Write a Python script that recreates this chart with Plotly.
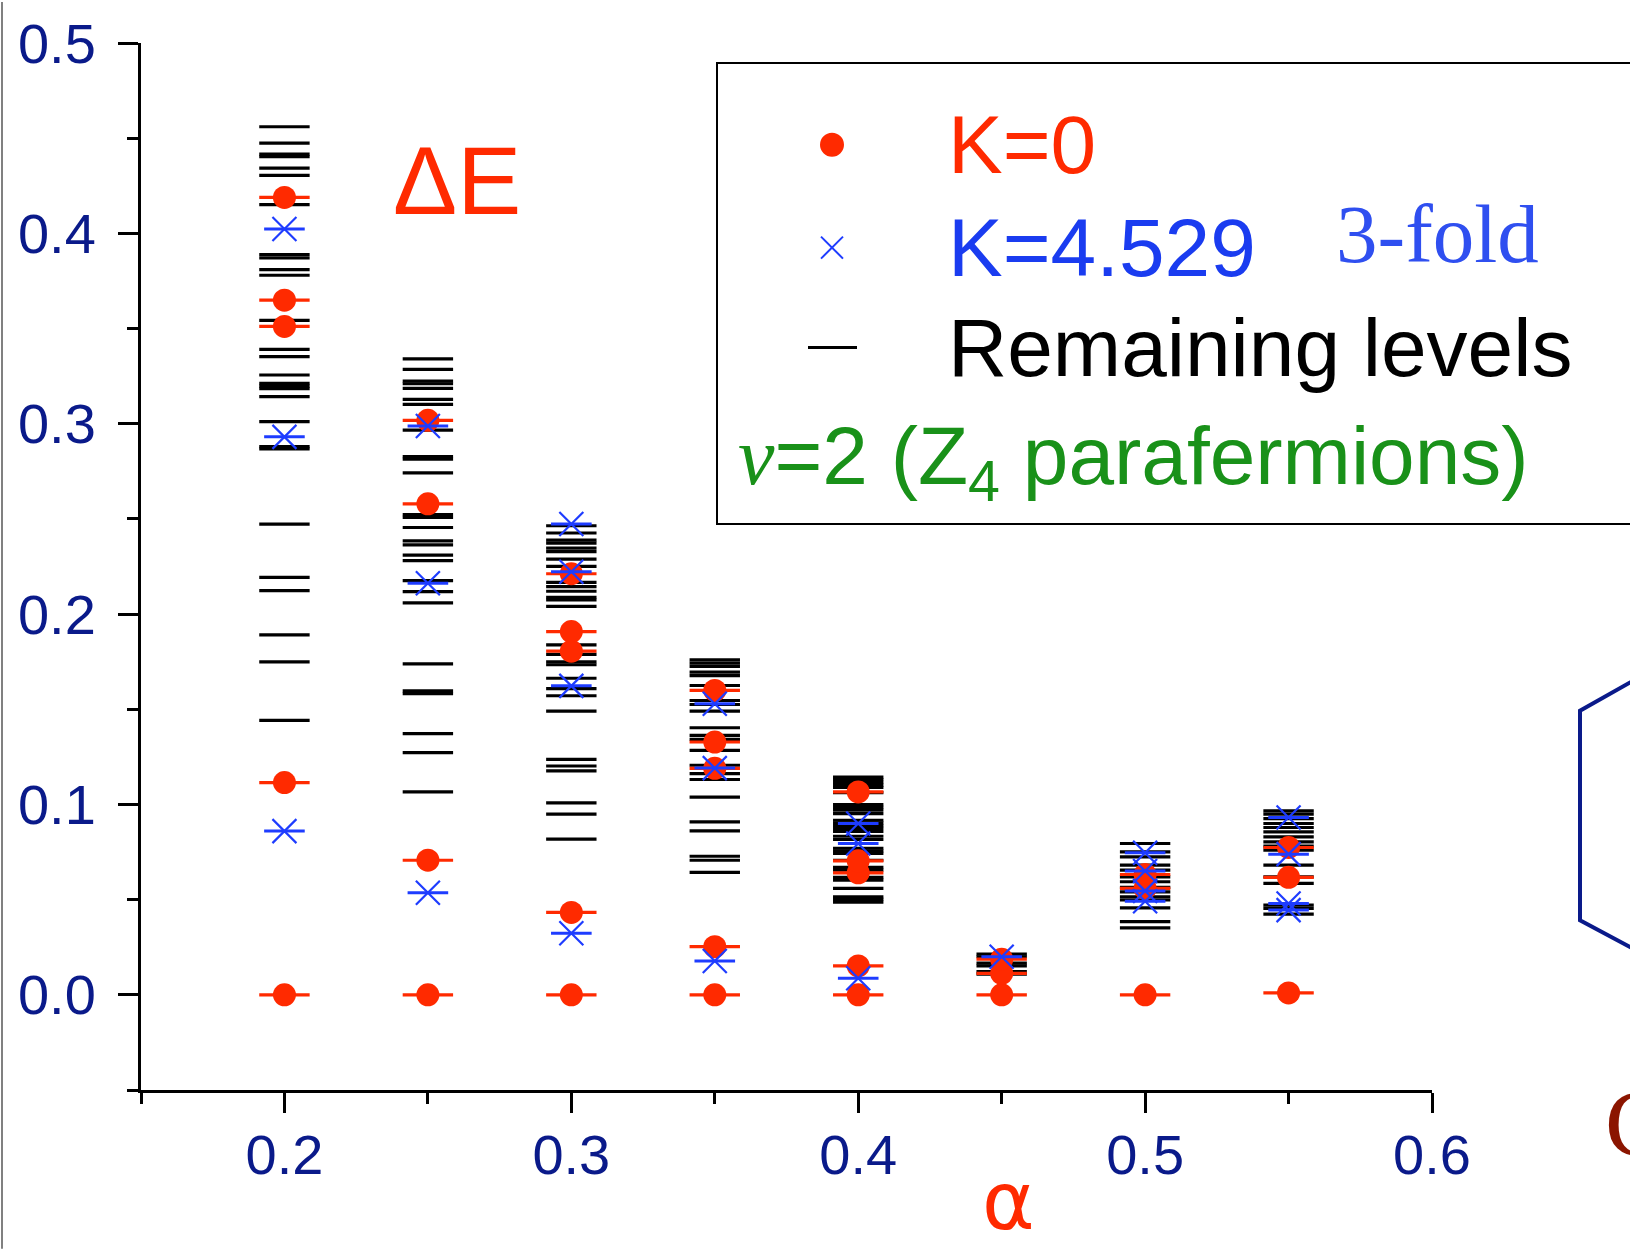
import plotly.graph_objects as go

# Level spectra versus alpha, one column of levels per alpha value
alpha = [0.20, 0.25, 0.30, 0.35, 0.40, 0.45, 0.50, 0.55]

k0_levels = [
    [0.0, 0.1115, 0.3511, 0.3649, 0.4189],
    [0.0, 0.0707, 0.2579, 0.3018],
    [0.0, 0.0433, 0.1805, 0.1908, 0.2212],
    [0.0, 0.0253, 0.1190, 0.1328, 0.1599],
    [0.0, 0.0152, 0.0641, 0.0704, 0.1066],
    [0.0, 0.0113, 0.0187],
    [0.0, 0.0559, 0.0632],
    [0.001, 0.0617, 0.0774],
]

k4529_levels = [
    [0.0860, 0.2931, 0.4023],
    [0.0536, 0.2162, 0.2988],
    [0.0323, 0.1623, 0.2222, 0.2473],
    [0.0178, 0.1191, 0.1529],
    [0.0087, 0.0795, 0.0900],
    [0.0200],
    [0.0492, 0.0546, 0.0650, 0.0746],
    [0.0445, 0.0480, 0.0739, 0.0931],
]

remaining_levels = [
    [0.456, 0.4474, 0.4416, 0.4403, 0.4343, 0.4305, 0.4151, 0.3889, 0.3871, 0.3810,
     0.3780, 0.3543, 0.3391, 0.3352, 0.3256, 0.3212, 0.3198, 0.3184, 0.3142, 0.3011,
     0.2880, 0.2868, 0.2473, 0.2193, 0.2123, 0.1891, 0.1749, 0.1442],
    [0.3341, 0.3286, 0.3224, 0.3210, 0.3186, 0.3128, 0.3102, 0.2966, 0.2827, 0.2814,
     0.2742, 0.2522, 0.2508, 0.2455, 0.2385, 0.2364, 0.2310, 0.2281, 0.2176, 0.2118,
     0.2059, 0.1739, 0.1597, 0.1582, 0.1372, 0.1272, 0.1066],
    [0.2464, 0.2426, 0.2389, 0.2373, 0.2347, 0.2328, 0.2289, 0.2251, 0.2167, 0.2144,
     0.2120, 0.2088, 0.2074, 0.2041, 0.1838, 0.1788, 0.1749, 0.1734, 0.1663, 0.1608,
     0.1571, 0.1490, 0.1237, 0.1202, 0.1176, 0.1008, 0.0949, 0.0818],
    [0.1760, 0.1742, 0.1725, 0.1695, 0.1677, 0.1625, 0.1546, 0.1525, 0.1490, 0.1403,
     0.1363, 0.1342, 0.1284, 0.1206, 0.1162, 0.1131, 0.1039, 0.0908, 0.0861, 0.0728,
     0.0707, 0.0643],
    [0.1144, 0.1131, 0.1116, 0.1102, 0.1089, 0.1062, 0.0999, 0.0985, 0.0970, 0.0952,
     0.0917, 0.0903, 0.0889, 0.0874, 0.0858, 0.0833, 0.0816, 0.0770, 0.0756, 0.0743,
     0.0707, 0.0669, 0.0655, 0.0617, 0.0603, 0.0559, 0.0515, 0.0501, 0.0487],
    [0.0214, 0.0200, 0.0166, 0.0152, 0.0122, 0.0108],
    [0.0795, 0.0751, 0.0725, 0.0681, 0.0655, 0.0620, 0.0594, 0.0564, 0.0541, 0.0515,
     0.0498, 0.0457, 0.0384, 0.0352],
    [0.0966, 0.0949, 0.0926, 0.0900, 0.0879, 0.0856, 0.0830, 0.0803, 0.0781, 0.0760,
     0.0681, 0.0620, 0.0585, 0.0471, 0.0454, 0.0424],
]

x_tick_vals = [0.2, 0.3, 0.4, 0.5, 0.6]
y_tick_vals = [0.0, 0.1, 0.2, 0.3, 0.4, 0.5]

RED = "#ff2a00"
BLUE = "#1e3cff"
NAVY = "#0a1a8a"
GREEN = "#199119"
SANS = "Liberation Sans, Arial, sans-serif"
SERIF = "Liberation Serif, Times New Roman, serif"

W, H = 1630, 1249
M_L, M_R, M_T, M_B = 141, 198, 41, 159


def flatten(levels):
    xs, ys = [], []
    for a, col in zip(alpha, levels):
        for v in col:
            xs.append(a)
            ys.append(v)
    return xs, ys


def px(xp):
    return (xp - M_L) / (W - M_L - M_R)


def py(yp):
    return (H - M_B - yp) / (H - M_T - M_B)


fig = go.Figure()

rx, ry = flatten(remaining_levels)
fig.add_trace(go.Scatter(
    x=rx, y=ry, mode="markers", name="Remaining levels", showlegend=False,
    marker=dict(symbol="line-ew", size=36, line=dict(width=3.2, color="black")),
))

kx, ky = flatten(k0_levels)
fig.add_trace(go.Scatter(
    x=kx, y=ky, mode="markers", showlegend=False, hoverinfo="skip",
    marker=dict(symbol="line-ew", size=36, line=dict(width=3.2, color=RED)),
))
fig.add_trace(go.Scatter(
    x=kx, y=ky, mode="markers", name="K=0", showlegend=False,
    marker=dict(symbol="circle", size=23, color=RED, line=dict(width=0)),
))

bx, by = flatten(k4529_levels)
fig.add_trace(go.Scatter(
    x=bx, y=by, mode="markers", showlegend=False, hoverinfo="skip",
    marker=dict(symbol="line-ew", size=29, line=dict(width=3, color=BLUE)),
))
fig.add_trace(go.Scatter(
    x=bx, y=by, mode="markers", name="K=4.529", showlegend=False,
    marker=dict(symbol="x-thin", size=24, line=dict(width=2.2, color=BLUE)),
))

axis_common = dict(
    showgrid=False, zeroline=False, showline=True, linewidth=3, linecolor="black",
    ticks="outside", ticklen=20, tickwidth=2.5, tickcolor="black",
    tickfont=dict(family=SANS, size=56, color=NAVY), tickformat=".1f",
)

fig.update_xaxes(
    range=[0.15, 0.6], tickvals=x_tick_vals,
    minor=dict(tickvals=[0.15, 0.25, 0.35, 0.45, 0.55], ticklen=11, tickwidth=2.5,
               tickcolor="black", ticks="outside"),
    ticklabelstandoff=-6, **axis_common,
)
fig.update_yaxes(
    range=[-0.05, 0.5], tickvals=y_tick_vals,
    minor=dict(tickvals=[-0.05, 0.05, 0.15, 0.25, 0.35, 0.45], ticklen=11, tickwidth=2.5,
               tickcolor="black", ticks="outside"),
    ticklabelstandoff=11, **axis_common,
)

shapes = [
    # legend frame
    dict(type="rect", xref="paper", yref="paper", x0=px(717), x1=px(1700),
         y0=py(523), y1=py(61), line=dict(color="black", width=2)),
    # legend glyphs
    dict(type="circle", xref="paper", yref="paper", x0=px(820), x1=px(844),
         y0=py(155), y1=py(131), fillcolor=RED, line=dict(width=0)),
    dict(type="line", xref="paper", yref="paper", x0=px(821), x1=px(843),
         y0=py(235), y1=py(257), line=dict(color=BLUE, width=2)),
    dict(type="line", xref="paper", yref="paper", x0=px(821), x1=px(843),
         y0=py(257), y1=py(235), line=dict(color=BLUE, width=2)),
    dict(type="line", xref="paper", yref="paper", x0=px(808), x1=px(857),
         y0=py(346), y1=py(346), line=dict(color="black", width=3)),
    # neighbouring panel outline
    dict(type="path", xref="paper", yref="paper",
         path=f"M {px(1640)},{py(676)} L {px(1580)},{py(710)} L {px(1580)},{py(920)} L {px(1640)},{py(952)}",
         line=dict(color=NAVY, width=4)),
    # page edge rule
    dict(type="line", xref="paper", yref="paper", x0=px(2), x1=px(2),
         y0=py(0), y1=py(H), line=dict(color="#808080", width=2)),
]

annotations = [
    dict(text="K=0", x=px(946), y=py(143), font=dict(family=SANS, size=82, color=RED)),
    dict(text="K=4.529", x=px(946), y=py(246), font=dict(family=SANS, size=82, color="#1a3cf0")),
    dict(text="3-fold", x=px(1334), y=py(232), font=dict(family=SERIF, size=83, color="#2f4ff0")),
    dict(text="Remaining levels", x=px(946), y=py(346), font=dict(family=SANS, size=82, color="black")),
    dict(text="<i><span style=\"font-family:'Liberation Serif'\">ν</span></i>=2 (Z<sub>4</sub> parafermions)",
         x=px(736), y=py(460), font=dict(family=SANS, size=82, color=GREEN)),
    dict(text="ΔE", x=px(391), y=py(179), font=dict(family=SANS, size=96, color=RED)),
    dict(text="α", x=px(980), y=py(1202), font=dict(family="DejaVu Sans, sans-serif", size=80, color=RED)),
    dict(text="C", x=px(1603), y=py(1124), font=dict(family=SERIF, size=95, color="#8b1500")),
]
for a in annotations:
    a.update(xref="paper", yref="paper", xanchor="left", yanchor="middle", showarrow=False)

fig.update_layout(
    width=W, height=H, margin=dict(l=M_L, r=M_R, t=M_T, b=M_B),
    paper_bgcolor="white", plot_bgcolor="white", showlegend=False,
    shapes=shapes, annotations=annotations,
)

fig.write_html("out.html")
